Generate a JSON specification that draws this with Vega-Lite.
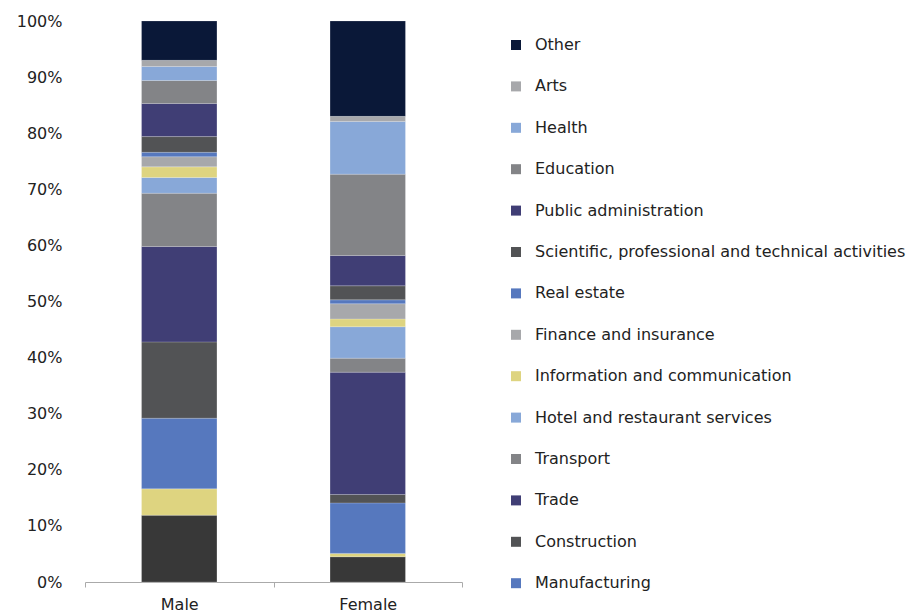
{
  "$schema": "https://vega.github.io/schema/vega-lite/v6.json",
  "width": 377,
  "height": 561,
  "autosize": {"type": "none"},
  "padding": {"left": 85, "top": 21, "right": 449, "bottom": 32},
  "background": "white",
  "config": {"view": {"stroke": null}, "font": "DejaVu Sans"},
  "data": {
    "values": [
      {"gender": "Male", "sector": "Agriculture", "share": 11.9},
      {"gender": "Male", "sector": "Mining and energy", "share": 4.7},
      {"gender": "Male", "sector": "Manufacturing", "share": 12.6},
      {"gender": "Male", "sector": "Construction", "share": 13.6},
      {"gender": "Male", "sector": "Trade", "share": 17.0},
      {"gender": "Male", "sector": "Transport", "share": 9.5},
      {"gender": "Male", "sector": "Hotel and restaurant services", "share": 2.8},
      {"gender": "Male", "sector": "Information and communication", "share": 1.9},
      {"gender": "Male", "sector": "Finance and insurance", "share": 1.8},
      {"gender": "Male", "sector": "Real estate", "share": 0.8},
      {"gender": "Male", "sector": "Scientific, professional and technical activities", "share": 2.8},
      {"gender": "Male", "sector": "Public administration", "share": 5.9},
      {"gender": "Male", "sector": "Education", "share": 4.1},
      {"gender": "Male", "sector": "Health", "share": 2.5},
      {"gender": "Male", "sector": "Arts", "share": 1.1},
      {"gender": "Male", "sector": "Other", "share": 7.0},
      {"gender": "Female", "sector": "Agriculture", "share": 4.5},
      {"gender": "Female", "sector": "Mining and energy", "share": 0.6},
      {"gender": "Female", "sector": "Manufacturing", "share": 9.0},
      {"gender": "Female", "sector": "Construction", "share": 1.5},
      {"gender": "Female", "sector": "Trade", "share": 21.8},
      {"gender": "Female", "sector": "Transport", "share": 2.5},
      {"gender": "Female", "sector": "Hotel and restaurant services", "share": 5.6},
      {"gender": "Female", "sector": "Information and communication", "share": 1.4},
      {"gender": "Female", "sector": "Finance and insurance", "share": 2.7},
      {"gender": "Female", "sector": "Real estate", "share": 0.7},
      {"gender": "Female", "sector": "Scientific, professional and technical activities", "share": 2.5},
      {"gender": "Female", "sector": "Public administration", "share": 5.4},
      {"gender": "Female", "sector": "Education", "share": 14.5},
      {"gender": "Female", "sector": "Health", "share": 9.4},
      {"gender": "Female", "sector": "Arts", "share": 0.9},
      {"gender": "Female", "sector": "Other", "share": 17.0}
    ]
  },
  "transform": [
    {"window": [{"op": "row_number", "as": "stackRank"}], "groupby": ["gender"]}
  ],
  "mark": {"type": "bar", "width": {"band": 0.4}, "stroke": "#ffffff", "strokeWidth": 0.6, "strokeOpacity": 0.3},
  "encoding": {
    "x": {
      "field": "gender", "type": "nominal", "sort": ["Male", "Female"],
      "scale": {"paddingInner": 0, "paddingOuter": 0},
      "axis": {"title": null, "labelAngle": 0, "labelFontSize": 16, "labelColor": "#222222", "domainColor": "#aaaaaa", "tickColor": "#aaaaaa", "tickSize": 5, "tickBand": "extent", "labelPadding": 9}
    },
    "y": {
      "field": "share", "type": "quantitative", "stack": "normalize",
      "scale": {"domain": [0, 1]},
      "axis": {"title": null, "format": ".0%", "values": [0, 0.1, 0.2, 0.3, 0.4, 0.5, 0.6, 0.7, 0.8, 0.9, 1], "domain": false, "ticks": false, "grid": false, "labelFontSize": 16, "labelColor": "#222222", "labelPadding": 23}
    },
    "order": {"field": "stackRank", "type": "quantitative", "sort": "ascending"},
    "color": {
      "field": "sector", "type": "nominal",
      "scale": {
        "domain": ["Agriculture", "Mining and energy", "Manufacturing", "Construction", "Trade", "Transport", "Hotel and restaurant services", "Information and communication", "Finance and insurance", "Real estate", "Scientific, professional and technical activities", "Public administration", "Education", "Health", "Arts", "Other"],
        "range": ["#383838", "#DED480", "#5678BE", "#525355", "#403E75", "#838487", "#88A8D8", "#DED480", "#A7A8AB", "#5678BE", "#525355", "#403E75", "#838487", "#88A8D8", "#A7A8AB", "#0A1838"]
      },
      "legend": {
        "title": null,
        "values": ["Other", "Arts", "Health", "Education", "Public administration", "Scientific, professional and technical activities", "Real estate", "Finance and insurance", "Information and communication", "Hotel and restaurant services", "Transport", "Trade", "Construction", "Manufacturing"],
        "orient": "right",
        "offset": 30,
        "padding": 16,
        "symbolType": "square",
        "symbolSize": 100,
        "symbolStrokeWidth": 0,
        "symbolOpacity": 1,
        "labelFontSize": 16,
        "labelColor": "#222222",
        "labelOffset": 11,
        "labelLimit": 420,
        "rowPadding": 25.4,
        "encode": {
          "symbols": {
            "fill": {"signal": "datum.value === 'Finance and insurance' ? '#0A1838' : datum.value === 'Information and communication' ? '#A7A8AB' : scale('color', datum.value)"}
          }
        }
      }
    }
  }
}
